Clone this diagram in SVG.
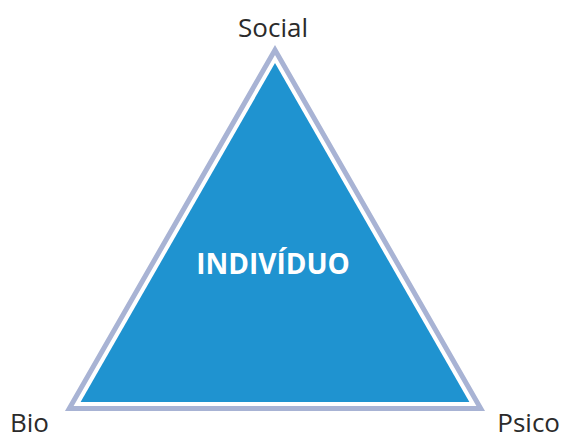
<svg xmlns="http://www.w3.org/2000/svg" width="563" height="439" viewBox="0 0 563 439">
  <style>
    .label { font-family: "Open Sans", "Liberation Sans", sans-serif; font-size: 26px; fill: #2b2b2b; }
    .center { font-family: "Open Sans", "Liberation Sans", sans-serif; font-size: 28px; font-weight: bold; fill: #ffffff; }
    .frame { fill: none; stroke: #a8b3d4; stroke-width: 5; stroke-linejoin: miter; }
    .core { fill: #1f93d0; }
  </style>
  <rect width="563" height="439" fill="#ffffff"/>
  <g id="triangle">
    <polygon class="frame" points="275,50 69.3,408.5 480.7,408.5"/>
    <polygon class="core" points="275,63 80.6,402 469.4,402"/>
    <text class="center" x="273" y="274" text-anchor="middle">INDIVÍDUO</text>
  </g>
  <g id="social">
    <text class="label" x="273" y="37" text-anchor="middle">Social</text>
  </g>
  <g id="bio">
    <text class="label" x="10" y="432">Bio</text>
  </g>
  <g id="psico">
    <text class="label" x="560" y="432" text-anchor="end">Psico</text>
  </g>
</svg>
